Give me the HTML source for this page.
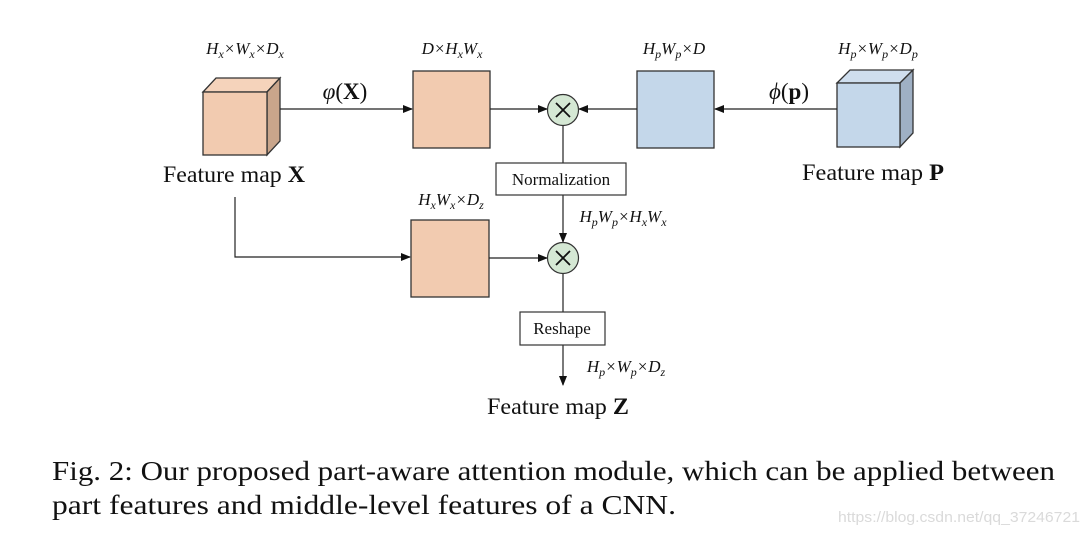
<!DOCTYPE html>
<html><head><meta charset="utf-8"><style>
body{margin:0;background:#fff}
svg{display:block}
.t{font-family:"Liberation Serif",serif;fill:#111}
.m{font-family:"Liberation Serif",serif;font-style:italic;fill:#111;font-size:17px}
</style></head><body>
<svg width="1089" height="534" viewBox="0 0 1089 534" xmlns="http://www.w3.org/2000/svg">
<defs><marker id="a" markerWidth="10" markerHeight="8" refX="9" refY="4" orient="auto" markerUnits="userSpaceOnUse"><path d="M0,0 L10,4 L0,8 z" fill="#111"/></marker></defs>
<g stroke="#333" stroke-width="1.3">
<polygon points="203,92 216,78 280,78 267,92" fill="#f5d3bb"/>
<polygon points="267,92 280,78 280,141 267,155" fill="#c9a58b"/>
<rect x="203" y="92" width="64" height="63" fill="#f2cbb0"/>
<rect x="413" y="71" width="77" height="77" fill="#f2cbb0"/>
<rect x="637" y="71" width="77" height="77" fill="#c4d7ea"/>
<polygon points="837,83 850,70 913,70 900,83" fill="#cfdeee"/>
<polygon points="900,83 913,70 913,133 900,147" fill="#9fb0c4"/>
<rect x="837" y="83" width="63" height="64" fill="#c4d7ea"/>
<rect x="411" y="220" width="78" height="77" fill="#f2cbb0"/>
</g>
<g stroke="#222" stroke-width="1.2" fill="none">
<line x1="280" y1="109" x2="412" y2="109" marker-end="url(#a)"/>
<line x1="490" y1="109" x2="547" y2="109" marker-end="url(#a)"/>
<line x1="637" y1="109" x2="579" y2="109" marker-end="url(#a)"/>
<line x1="837" y1="109" x2="715" y2="109" marker-end="url(#a)"/>
<line x1="563" y1="125" x2="563" y2="163"/>
<line x1="563" y1="195" x2="563" y2="242" marker-end="url(#a)"/>
<polyline points="235,197 235,257 410,257" marker-end="url(#a)"/>
<line x1="489" y1="258" x2="547" y2="258" marker-end="url(#a)"/>
<line x1="563" y1="274" x2="563" y2="312"/>
<line x1="563" y1="345" x2="563" y2="385" marker-end="url(#a)"/>
</g>
<g stroke="#333" stroke-width="1.2">
<circle cx="563" cy="110" r="15.5" fill="#d5e8d4"/>
<circle cx="563" cy="258" r="15.5" fill="#d5e8d4"/>
<rect x="496" y="163" width="130" height="32" fill="#fff"/>
<rect x="520" y="312" width="85" height="33" fill="#fff"/>
</g>
<g stroke="#111" stroke-width="1.8">
<line x1="556" y1="103" x2="570" y2="117"/><line x1="570" y1="103" x2="556" y2="117"/>
<line x1="556" y1="251" x2="570" y2="265"/><line x1="570" y1="251" x2="556" y2="265"/>
</g>
<text class="t" x="561" y="185" font-size="17" text-anchor="middle">Normalization</text>
<text class="t" x="562" y="334" font-size="17" text-anchor="middle">Reshape</text>
<text class="t" x="163" y="182" font-size="23" textLength="142" lengthAdjust="spacingAndGlyphs">Feature map <tspan font-weight="bold">X</tspan></text>
<text class="t" x="802" y="180" font-size="23" textLength="142" lengthAdjust="spacingAndGlyphs">Feature map <tspan font-weight="bold">P</tspan></text>
<text class="t" x="487" y="414" font-size="23" textLength="142" lengthAdjust="spacingAndGlyphs">Feature map <tspan font-weight="bold">Z</tspan></text>
<text class="t" x="345" y="99" font-size="23" text-anchor="middle"><tspan font-style="italic">φ</tspan>(<tspan font-weight="bold">X</tspan>)</text>
<text class="t" x="789" y="99" font-size="23" text-anchor="middle"><tspan font-style="italic">ϕ</tspan>(<tspan font-weight="bold">p</tspan>)</text>
<g class="m" text-anchor="middle">
<text x="245" y="54" class="m">H<tspan font-size="12" dy="4">x</tspan><tspan dy="-4">×W</tspan><tspan font-size="12" dy="4">x</tspan><tspan dy="-4">×D</tspan><tspan font-size="12" dy="4">x</tspan></text>
<text x="452" y="54" class="m">D×H<tspan font-size="12" dy="4">x</tspan><tspan dy="-4">W</tspan><tspan font-size="12" dy="4">x</tspan></text>
<text x="674" y="54" class="m">H<tspan font-size="12" dy="4">p</tspan><tspan dy="-4">W</tspan><tspan font-size="12" dy="4">p</tspan><tspan dy="-4">×D</tspan></text>
<text x="878" y="54" class="m">H<tspan font-size="12" dy="4">p</tspan><tspan dy="-4">×W</tspan><tspan font-size="12" dy="4">p</tspan><tspan dy="-4">×D</tspan><tspan font-size="12" dy="4">p</tspan></text>
<text x="451" y="205" class="m">H<tspan font-size="12" dy="4">x</tspan><tspan dy="-4">W</tspan><tspan font-size="12" dy="4">x</tspan><tspan dy="-4">×D</tspan><tspan font-size="12" dy="4">z</tspan></text>
<text x="623" y="222" class="m">H<tspan font-size="12" dy="4">p</tspan><tspan dy="-4">W</tspan><tspan font-size="12" dy="4">p</tspan><tspan dy="-4">×H</tspan><tspan font-size="12" dy="4">x</tspan><tspan dy="-4">W</tspan><tspan font-size="12" dy="4">x</tspan></text>
<text x="626" y="372" class="m">H<tspan font-size="12" dy="4">p</tspan><tspan dy="-4">×W</tspan><tspan font-size="12" dy="4">p</tspan><tspan dy="-4">×D</tspan><tspan font-size="12" dy="4">z</tspan></text>
</g>
<text class="t" x="52" y="480" font-size="27" textLength="1003" lengthAdjust="spacingAndGlyphs">Fig. 2: Our proposed part-aware attention module, which can be applied between</text>
<text class="t" x="52" y="514" font-size="27" textLength="624" lengthAdjust="spacingAndGlyphs">part features and middle-level features of a CNN.</text>
<text x="838" y="522" font-family="Liberation Sans,sans-serif" font-size="15" fill="#dadada" textLength="242" lengthAdjust="spacingAndGlyphs">https://blog.csdn.net/qq_37246721</text>
</svg>
</body></html>
